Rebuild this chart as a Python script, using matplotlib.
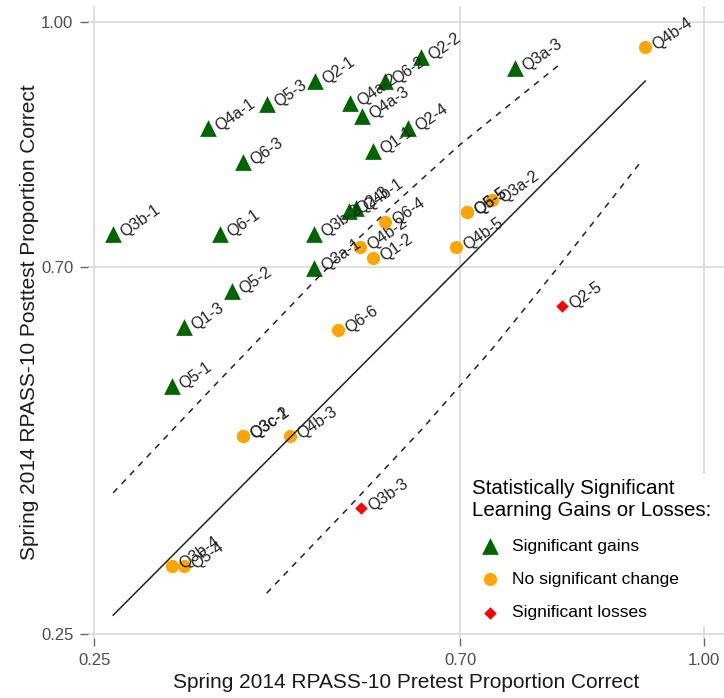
import numpy as np
import matplotlib.pyplot as plt

plt.rcParams['font.family'] = ['Liberation Sans', 'DejaVu Sans']

# items with significant gains
gain_items = ['Q3b-1', 'Q6-1', 'Q4a-1', 'Q6-3', 'Q5-3', 'Q2-1', 'Q4a-2', 'Q4a-3',
              'Q6-2', 'Q2-2', 'Q1-1', 'Q2-4', 'Q3a-3', 'Q3b-2', 'Q2-3', 'Q4b-1',
              'Q3a-1', 'Q5-2', 'Q1-3', 'Q5-1']
gain_pre = [0.273, 0.404, 0.390, 0.433, 0.462, 0.521, 0.565, 0.579,
            0.608, 0.652, 0.593, 0.636, 0.768, 0.520, 0.563, 0.572,
            0.520, 0.419, 0.360, 0.345]
gain_post = [0.740, 0.740, 0.871, 0.829, 0.900, 0.928, 0.901, 0.885,
             0.928, 0.958, 0.842, 0.871, 0.944, 0.740, 0.769, 0.772,
             0.699, 0.671, 0.626, 0.554]

# items with no significant change
none_items = ['Q4b-4', 'Q6-5', 'Q5-5', 'Q3a-2', 'Q4b-5', 'Q6-4', 'Q4b-2', 'Q1-2',
              'Q6-6', 'Q3c-1', 'Q3c-2', 'Q4b-3', 'Q3b-4', 'Q5-4']
none_pre = [0.928, 0.709, 0.709, 0.739, 0.695, 0.608, 0.577, 0.593,
            0.550, 0.433, 0.433, 0.491, 0.345, 0.360]
none_post = [0.970, 0.767, 0.767, 0.782, 0.725, 0.755, 0.725, 0.711,
             0.623, 0.493, 0.493, 0.493, 0.333, 0.333]

# items with significant losses
loss_items = ['Q2-5', 'Q3b-3']
loss_pre = [0.826, 0.578]
loss_post = [0.652, 0.405]

# significance boundaries (dashed)
upper_pre = [0.273, 0.400, 0.528, 0.620, 0.700, 0.826]
upper_post = [0.423, 0.557, 0.690, 0.778, 0.850, 0.951]
lower_pre = [0.462, 0.560, 0.654, 0.740, 0.821, 0.922]
lower_post = [0.300, 0.402, 0.502, 0.600, 0.700, 0.828]

ticks = [0.25, 0.70, 1.00]
tick_labels = ['0.25', '0.70', '1.00']

fig = plt.figure(figsize=(7.24, 6.98), dpi=100)
ax = fig.add_axes([88/724, 60/698, 636/724, 632/698])
ax.set_xlim(0.242, 1.025)
ax.set_ylim(0.245, 1.020)
for s in ax.spines.values():
    s.set_visible(False)
ax.set_xticks(ticks)
ax.set_xticklabels(tick_labels)
ax.set_yticks(ticks)
ax.set_yticklabels(tick_labels)
ax.tick_params(length=6, width=1, color='#666666', labelcolor='#4d4d4d',
               labelsize=12, pad=4.5)
ax.grid(True, color='#d9d9d9', linewidth=1.2)
ax.set_axisbelow(True)

all_pre = gain_pre + none_pre + loss_pre
lo, hi = min(all_pre), max(all_pre)
ax.plot([lo, hi], [lo, hi], color='#222222', lw=1.1, zorder=4)
ax.plot(upper_pre, upper_post, color='#222222', lw=1.1, ls=(0, (4, 4)), zorder=4)
ax.plot(lower_pre, lower_post, color='#222222', lw=1.1, ls=(0, (4, 4)), zorder=4)

g = ax.scatter(gain_pre, gain_post, marker='^', s=145, color='darkgreen',
               linewidths=0, label='Significant gains', zorder=3)
n = ax.scatter(none_pre, none_post, marker='o', s=90, color='orange',
               linewidths=0, label='No significant change', zorder=3)
l = ax.scatter(loss_pre, loss_post, marker='D', s=40, color='red',
               linewidths=0, label='Significant losses', zorder=3)

for items, xs, ys in [(gain_items, gain_pre, gain_post),
                      (none_items, none_pre, none_post),
                      (loss_items, loss_pre, loss_post)]:
    for t, x, y in zip(items, xs, ys):
        ax.text(x + 0.011, y, t, rotation=35, rotation_mode='anchor',
                ha='left', va='center', fontsize=11.6, color='#222222', zorder=3)

leg = ax.legend(handles=[g, n, l],
                title='Statistically Significant\nLearning Gains or Losses:',
                loc='upper left', bbox_to_anchor=(467/724, 1 - 474/698),
                bbox_transform=fig.transFigure, borderaxespad=0,
                fontsize=12.5, title_fontsize=14.8,
                labelspacing=1.05, handletextpad=0.3, borderpad=0.3,
                alignment='left', scatterpoints=1, fancybox=False, framealpha=1)
leg.get_frame().set_facecolor('white')
leg.get_frame().set_edgecolor('none')

fig.text(406/724, 1 - 683/698, 'Spring 2014 RPASS-10 Pretest Proportion Correct',
         ha='center', va='center', fontsize=15, color='#1a1a1a')
fig.text(30/724, 1 - 322/698, 'Spring 2014 RPASS-10 Posttest Proportion Correct',
         ha='center', va='center', rotation=90, fontsize=15, color='#1a1a1a')

fig.savefig('out.png', dpi=100)
